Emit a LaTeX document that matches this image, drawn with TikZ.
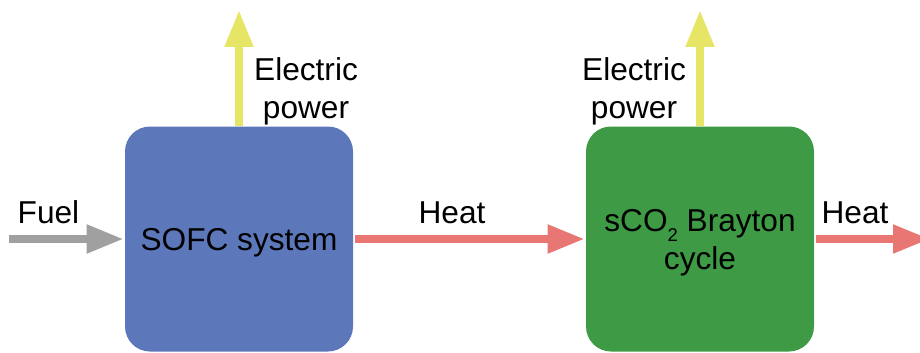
\documentclass[tikz,border=0pt]{standalone}
\usepackage{fontspec}
\setmainfont{Liberation Sans}
\usepackage{xcolor}
\usepackage{tikz}
\usetikzlibrary{arrows.meta}

\definecolor{sofcblue}{HTML}{5C77BA}
\definecolor{cyclegreen}{HTML}{3E9A44}
\definecolor{heatred}{HTML}{E87773}
\definecolor{poweryellow}{HTML}{E6E565}
\definecolor{fuelgray}{HTML}{A0A0A0}

\newcommand{\lowtwo}{\raisebox{-6pt}{\fontsize{10.5}{10.5}\selectfont 2}}

\begin{document}
\begin{tikzpicture}[
    every node/.style={font=\fontsize{18}{21.6}\selectfont},
    unit/.style={rounded corners=0.5cm, minimum width=4.56cm, minimum height=4.5cm,
                 inner sep=0pt, align=center, text depth=0pt},
    flow/.style={line width=0.16cm, -{Triangle[length=0.74cm, width=0.54cm]}},
  ]
    \def\W{18.4}                            % 图宽（单位：cm）
    \def\H{7.04}                            % 图高
    \def\ya{2.26}                           % 水平流线的高度

    \useasboundingbox (0, 0) rectangle (\W, \H);

    % 两个模块
    \node[unit, fill=sofcblue]   (sofc) at (4.78, \ya) {SOFC system};
    \node[unit, fill=cyclegreen] (sco2) at (14.0, \ya) {sCO\lowtwo{} Brayton\\cycle};

    % 流线的自由端点
    \coordinate (fuelin)  at (0.18, \ya);
    \coordinate (heatout) at (18.6, \ya);
    \coordinate (sofcup)  at (4.78, 6.84);
    \coordinate (sco2up)  at (14.0, 6.84);

    % 燃料与热流
    \draw[flow, fuelgray, shorten >=0.02cm] (fuelin) -- (sofc.west);
    \draw[flow, heatred, shorten <=0.04cm, shorten >=0.02cm] (sofc) -- (sco2);
    \draw[flow, heatred, shorten <=0.04cm] (sco2.east) -- (heatout);

    % 电力输出
    \draw[flow, poweryellow] (sofc.north) -- (sofcup);
    \draw[flow, poweryellow] (sco2.north) -- (sco2up);

    % 流线标签
    \node[anchor=base] (fuel)  at (0.97, 2.58) {Fuel};
    \node[anchor=base] (heata) at (9.04, 2.58) {Heat};
    \node[anchor=base] (heatb) at (17.1, 2.58) {Heat};
    \node[anchor=north, align=center, inner sep=0pt] (powera) at (6.12, 5.90)
      {Electric\\power};
    \node[anchor=north, align=center, inner sep=0pt] (powerb) at (12.68, 5.90)
      {Electric\\power};
  \end{tikzpicture}
\end{document}
